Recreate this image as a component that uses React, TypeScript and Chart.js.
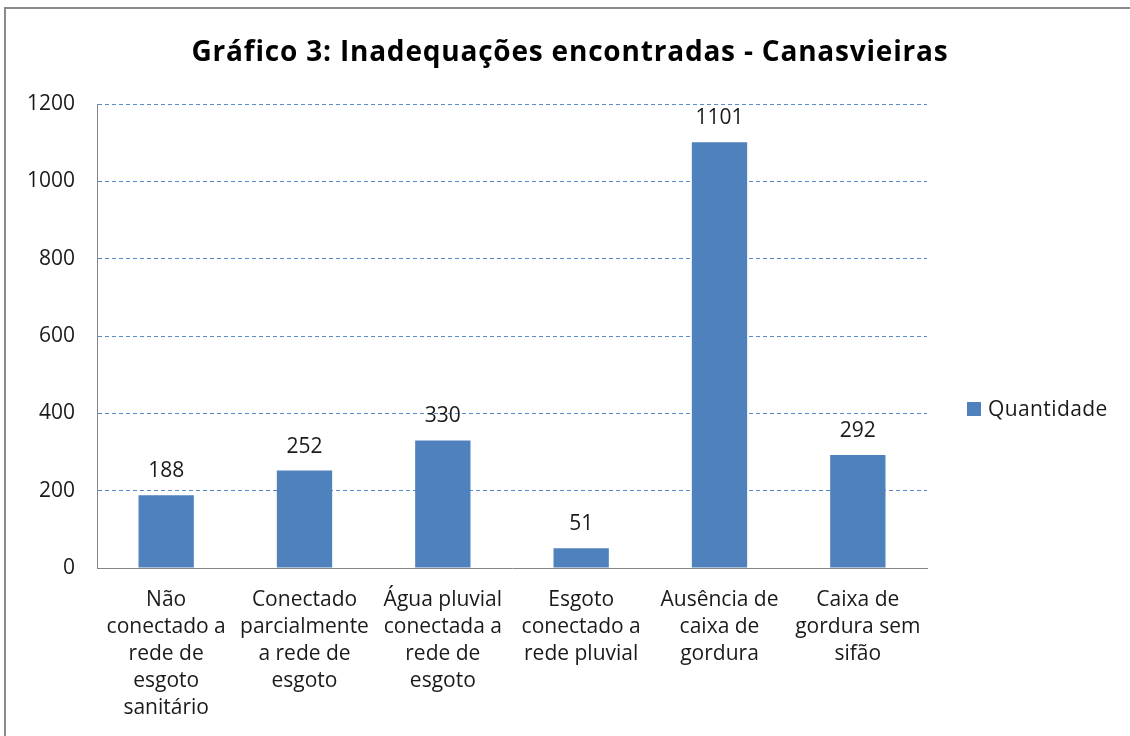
import React, { useEffect, useRef } from "react";
import { Chart, registerables } from "chart.js";

Chart.register(...registerables);

const categories: string[][] = [
  ["Não", "conectado a", "rede de", "esgoto", "sanitário"],
  ["Conectado", "parcialmente", "a rede de", "esgoto"],
  ["Água pluvial", "conectada a", "rede de", "esgoto"],
  ["Esgoto", "conectado a", "rede pluvial"],
  ["Ausência de", "caixa de", "gordura"],
  ["Caixa de", "gordura sem", "sifão"],
];
const quantidade: number[] = [188, 252, 330, 51, 1101, 292];
const seriesName = "Quantidade";
const chartTitle = "Gráfico 3: Inadequações encontradas - Canasvieiras";
const yMax = 1200;
const yStep = 200;

const FONT = "'Open Sans'";
const BAR = "#4F81BD";
const TEXT = "#1a1a1a";
const SIZE = 21;

const dataLabelPlugin = {
  id: "dataLabels",
  afterDatasetsDraw(chart: any) {
    const ctx = chart.ctx;
    const meta = chart.getDatasetMeta(0);
    const ds = chart.data.datasets[0];
    ctx.save();
    ctx.font = `${SIZE}px ${FONT}`;
    ctx.fillStyle = TEXT;
    ctx.textAlign = "center";
    ctx.textBaseline = "middle";
    meta.data.forEach((el: any, i: number) => {
      ctx.fillText(String(ds.data[i]), el.x, el.y - 24);
    });
    ctx.restore();
  },
};

const titleLegendPlugin = {
  id: "titleLegend",
  afterDraw(chart: any) {
    const ctx = chart.ctx;
    ctx.save();
    ctx.font = `bold 28px ${FONT}`;
    (ctx as any).letterSpacing = "0.8px";
    ctx.fillStyle = "#000";
    ctx.textAlign = "center";
    ctx.textBaseline = "middle";
    ctx.fillText(chartTitle, 570, 53);
    (ctx as any).letterSpacing = "0.4px";

    ctx.fillStyle = BAR;
    ctx.fillRect(967, 402, 14, 14);
    ctx.font = `${SIZE}px ${FONT}`;
    ctx.fillStyle = TEXT;
    ctx.textAlign = "left";
    ctx.fillText(chart.data.datasets[0].label, 988, 410);
    ctx.restore();
  },
};

export default function App() {
  const ref = useRef<HTMLCanvasElement>(null);
  useEffect(() => {
    if (!ref.current) return;
    const chart = new Chart(ref.current, {
      type: "bar",
      data: {
        labels: categories,
        datasets: [
          {
            label: seriesName,
            data: quantidade,
            backgroundColor: BAR,
            borderWidth: 0,
            categoryPercentage: 1,
            barPercentage: 0.4,
          },
        ],
      },
      options: {
        responsive: false,
        animation: false,
        devicePixelRatio: 1,
        layout: { padding: { left: 0, right: 203, top: 104, bottom: 0 } },
        plugins: {
          legend: { display: false },
          tooltip: { enabled: false },
          title: { display: false },
        },
        scales: {
          x: {
            grid: { display: false, drawTicks: false },
            border: { display: true, color: "#868686", width: 1 },
            ticks: {
              color: TEXT,
              font: { family: FONT, size: SIZE, lineHeight: 1.29 },
              padding: 18,
              maxRotation: 0,
              minRotation: 0,
              autoSkip: false,
            },
            afterFit(scale: any) {
              scale.height = 736 - 568;
            },
          },
          y: {
            min: 0,
            max: yMax,
            ticks: {
              stepSize: yStep,
              color: TEXT,
              font: { family: FONT, size: SIZE },
              padding: 22,
              callback: (v: any) => String(v),
            },
            grid: {
              drawTicks: false,
              color: (c: any) => (c.tick && c.tick.value === 0 ? "rgba(0,0,0,0)" : "#5B8AC6"),
              lineWidth: 1,
            },
            border: { display: true, color: "#868686", width: 1, dash: [4, 3] },
            afterFit(scale: any) {
              scale.width = 97;
            },
          },
        },
      },
      plugins: [dataLabelPlugin, titleLegendPlugin],
    } as any);
    return () => chart.destroy();
  }, []);

  return (
    <div style={{ position: "absolute", left: 0, top: 0, width: 1130, height: 736, overflow: "hidden", background: "#fff" }}>
      <div
        style={{
          position: "absolute",
          left: 4,
          top: 7,
          width: 1200,
          height: 800,
          border: "2px solid #8a8a8a",
          boxSizing: "border-box",
        }}
      />
      <canvas ref={ref} width={1130} height={736} style={{ position: "absolute", left: 0, top: 0 }} />
    </div>
  );
}
